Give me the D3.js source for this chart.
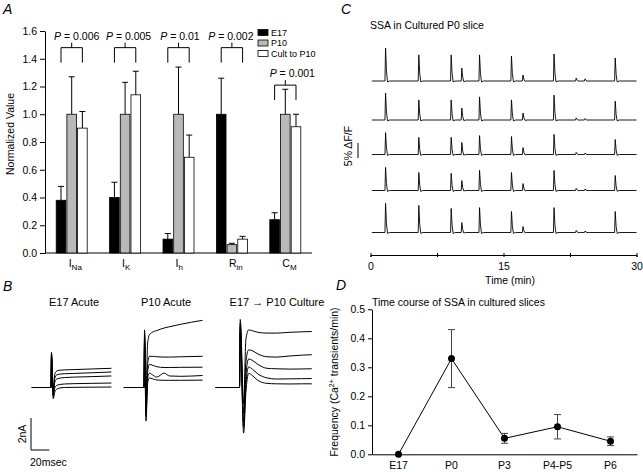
<!DOCTYPE html>
<html><head><meta charset="utf-8">
<script src="https://cdn.jsdelivr.net/npm/d3@7"></script>
<style>
body{margin:0;background:#fff}
text{font-family:"Liberation Sans",Arial,sans-serif;fill:#000}
</style>
</head><body>
<svg id="fig" width="643" height="472"></svg>
<script>
// ---------------- DATA ----------------
// Panel A
const categoriesA = ["INa", "IK", "Ih", "Rin", "CM"];
const labelMainA = ["I", "I", "I", "R", "C"];
const labelSubA = ["Na", "K", "h", "in", "M"];
const seriesA = ["E17", "P10", "Cult to P10"];
const valuesE17 = [0.38, 0.40, 0.10, 1.00, 0.24];
const valuesP10 = [1.00, 1.00, 1.00, 0.06, 1.00];
const valuesCult = [0.90, 1.14, 0.69, 0.10, 0.91];
const errE17 = [0.10, 0.11, 0.04, 0.26, 0.05];
const errP10 = [0.27, 0.23, 0.34, 0.01, 0.18];
const errCult = [0.12, 0.17, 0.16, 0.02, 0.09];
const pValues = ["0.006", "0.005", "0.01", "0.002", "0.001"];
const pLevels = [1.48, 1.48, 1.48, 1.48, 1.21];
const yTicksA = [0, 0.2, 0.4, 0.6, 0.8, 1.0, 1.2, 1.4, 1.6];

// Panel B (current traces, time in ms relative to step, current in nA)
const titlesB = ["E17 Acute", "P10 Acute", "E17 \u2192 P10 Culture"];
const timesE17 = [-21, 0, 0.5, 2.5, 4, 6, 9, 15, 25, 45, 66];
const tracesE17 = [
  [0, 0, 2.2, -0.2, 0.8, 1.02, 1.08, 1.10, 1.12, 1.16, 1.20],
  [0, 0, 2.1, -0.3, 0.55, 0.78, 0.83, 0.86, 0.88, 0.92, 0.97],
  [0, 0, 2.0, -0.45, 0.3, 0.52, 0.58, 0.62, 0.65, 0.68, 0.72],
  [0, 0, 1.9, -0.55, -0.05, 0.12, 0.18, 0.22, 0.24, 0.26, 0.28],
  [0, 0, 1.8, -0.7, -0.3, -0.12, -0.04, 0.0, 0.01, 0.02, 0.03]
];
const timesP10 = [-22, 0, 0.6, 2.2, 4, 6, 9, 14, 22, 28, 40, 64];
const tracesP10 = [
  [0, 0, 3.6, -0.5, 2.8, 3.3, 3.45, 3.56, 3.72, 3.8, 3.95, 4.2],
  [0, 0, 3.4, -1.0, 1.5, 1.95, 1.95, 1.92, 1.9, 1.9, 1.92, 1.95],
  [0, 0, 3.2, -1.4, 1.0, 1.45, 1.4, 1.3, 1.25, 1.25, 1.26, 1.27],
  [0, 0, 3.0, -1.8, 0.6, 0.9, 0.8, 0.65, 0.9, 0.72, 0.7, 0.75],
  [0, 0, 2.8, -2.1, 0.3, 0.6, 0.55, 0.47, 0.45, 0.45, 0.45, 0.46]
];
const timesCult = [-26, 0, 0.8, 4.5, 7, 10, 14, 20, 30, 40, 55, 68, 79];
const tracesCult = [
  [0, 0, 4.25, -1.0, 3.0, 3.6, 3.55, 3.45, 3.4, 3.4, 3.45, 3.48, 3.5],
  [0, 0, 4.0, -1.6, 1.6, 2.35, 2.3, 2.1, 1.92, 1.9, 1.97, 2.02, 2.05],
  [0, 0, 3.8, -2.2, 0.8, 1.78, 1.7, 1.45, 1.2, 1.17, 1.15, 1.16, 1.17],
  [0, 0, 3.6, -2.5, 0.2, 1.28, 1.15, 0.85, 0.6, 0.53, 0.54, 0.55, 0.56],
  [0, 0, 3.4, -2.85, -0.3, 0.88, 0.75, 0.45, 0.26, 0.23, 0.22, 0.23, 0.23]
];

// Panel C (spontaneous Ca transients: times in min, amplitudes in % dF/F)
const spikeTimesC = [1.7, 5.45, 9.1, 10.3, 12.3, 15.9, 17.2, 20.7, 23.2, 24.2, 27.6];
const ampsC1 = [11, 8.7, 8.7, 4.3, 8.7, 8.3, 2, 9, 1, 0.7, 7.7];
const ampsC2 = [9, 6.7, 6.7, 4, 7.7, 6.7, 2.3, 8.3, 0.7, 0.5, 6.3];
const ampsC3 = [7.3, 5.7, 5.7, 4, 6.3, 6, 2.3, 6.7, 0.7, 0.5, 5];
const ampsC4 = [7.7, 6, 5.7, 3.3, 6.7, 6, 2.3, 6.7, 0.7, 0.5, 5];
const ampsC5 = [9.7, 9, 8, 3.3, 8.3, 7, 2, 8.3, 0.7, 0.5, 7];
const xTicksC = [0, 7.5, 15, 22.5, 30];
const xTickLabelsC = ["0", "", "15", "", "30"];

// Panel D
const categoriesD = ["E17", "P0", "P3", "P4-P5", "P6"];
const freqD = [0, 0.33, 0.055, 0.095, 0.045];
const errD = [0, 0.10, 0.017, 0.042, 0.015];
const yTicksD = [0, 0.1, 0.2, 0.3, 0.4, 0.5];

// ---------------- DRAWING ----------------
const svg = d3.select("#fig");
const FS = 10.5;
const FF = '"Liberation Sans",Arial,sans-serif';

function panelLetter(x, y, s) {
  svg.append("text").attr("x", x).attr("y", y).attr("font-size", 14)
    .attr("font-style", "italic").text(s);
}

// ===== Panel A =====
panelLetter(3, 14, "A");
const yA = d3.scaleLinear().domain([0, 1.6]).range([253, 31]);
const xA = d3.scaleBand().domain(categoriesA).range([45, 312]).padding(0);
const xSub = d3.scaleBand().domain(seriesA).range([11.2, 42.2]).paddingInner(0.1);
const pLabelDx = [5, 3.5, 1.5, -1, 7];
const gA = svg.append("g");

const axA = gA.append("g").attr("transform", "translate(45,0)")
  .call(d3.axisLeft(yA).tickValues(yTicksA).tickFormat(d3.format(".1f")).tickSize(5).tickSizeOuter(0).tickPadding(3));
axA.selectAll("text").attr("font-size", FS).attr("font-family", FF);

gA.append("line").attr("x1", 45).attr("x2", 312).attr("y1", yA(0)).attr("y2", yA(0)).attr("stroke", "#000");

const seriesData = [
  {name: "E17", vals: valuesE17, errs: errE17, fill: "#000"},
  {name: "P10", vals: valuesP10, errs: errP10, fill: "#b9b9b9"},
  {name: "Cult to P10", vals: valuesCult, errs: errCult, fill: "#fff"}
];
seriesData.forEach(s => {
  categoriesA.forEach((c, i) => {
    const x0 = xA(c) + xSub(s.name);
    const w = xSub.bandwidth();
    const xc = x0 + w / 2;
    const top = yA(s.vals[i] + s.errs[i]);
    gA.append("path").attr("d", `M${xc},${yA(s.vals[i])}V${top}M${xc - 3},${top}h6`)
      .attr("fill", "none").attr("stroke", "#000").attr("stroke-width", 1);
    gA.append("rect").attr("x", x0).attr("y", yA(s.vals[i])).attr("width", w)
      .attr("height", yA(0) - yA(s.vals[i])).attr("fill", s.fill).attr("stroke", "#000").attr("stroke-width", 0.8);
  });
});

// P-value brackets
categoriesA.forEach((c, i) => {
  const xl = xA(c) + xSub("E17") + xSub.bandwidth() / 2;
  const xr = xA(c) + xSub("Cult to P10") + xSub.bandwidth() / 2;
  const yt = yA(pLevels[i]);
  const xm = (xl + xr) / 2;
  gA.append("path").attr("d", `M${xl},${yt + 15}V${yt}H${xr}V${yt + 15}M${xm},${yt}V${yt - 5}`)
    .attr("fill", "none").attr("stroke", "#000").attr("stroke-width", 1);
  const t = gA.append("text").attr("x", xm + pLabelDx[i]).attr("y", yt - 8).attr("text-anchor", "middle").attr("font-size", 10.5);
  t.append("tspan").attr("font-style", "italic").text("P");
  t.append("tspan").text(" = " + pValues[i]);
});

// category labels
categoriesA.forEach((c, i) => {
  const t = gA.append("text").attr("x", xA(c) + xA.bandwidth() / 2 - 3).attr("y", 267).attr("font-size", FS);
  t.append("tspan").text(labelMainA[i]);
  t.append("tspan").attr("font-size", 8).attr("dy", 3).text(labelSubA[i]);
});

// y label
gA.append("text").attr("transform", "translate(14,134) rotate(-90)").attr("text-anchor", "middle")
  .attr("font-size", FS).text("Normalized Value");

// legend
seriesData.forEach((s, i) => {
  const y = 29.5 + i * 10.5;
  gA.append("rect").attr("x", 258).attr("y", y).attr("width", 10).attr("height", 6)
    .attr("fill", s.fill).attr("stroke", "#000").attr("stroke-width", 0.8);
  gA.append("text").attr("x", 271).attr("y", y + 6.3).attr("font-size", 9).text(s.name);
});

// ===== Panel B =====
panelLetter(3, 291, "B");
const yB = d3.scaleLinear().domain([0, 1]).range([387.5, 371.5]);
const panelsB = [
  {title: titlesB[0], times: timesE17, traces: tracesE17, x0: 51, tx: 74},
  {title: titlesB[1], times: timesP10, traces: tracesP10, x0: 144, tx: 166},
  {title: titlesB[2], times: timesCult, traces: tracesCult, x0: 239.5, tx: 277}
];
panelsB.forEach(p => {
  const xB = d3.scaleLinear().domain([0, 20]).range([p.x0, p.x0 + 18.3]);
  svg.append("text").attr("x", p.tx).attr("y", 306).attr("text-anchor", "middle").attr("font-size", 11).text(p.title);
  const line = d3.line().x((d, i) => xB(p.times[i])).y(d => yB(d)).curve(d3.curveMonotoneX);
  p.traces.forEach(tr => {
    svg.append("path").attr("d", line(tr)).attr("fill", "none").attr("stroke", "#000").attr("stroke-width", 1);
  });
});
// scale bar
{
  const xBs = d3.scaleLinear().domain([0, 20]).range([31, 49.3]);
  const yBase = 450;
  const h = yB(0) - yB(2);
  svg.append("path").attr("d", `M${xBs(0)},${yBase - h}V${yBase}H${xBs(20)}`)
    .attr("fill", "none").attr("stroke", "#000").attr("stroke-width", 1);
  svg.append("text").attr("transform", `translate(26,${yBase - h / 2}) rotate(-90)`).attr("text-anchor", "middle")
    .attr("font-size", FS).text("2nA");
  svg.append("text").attr("x", 30).attr("y", 466).attr("font-size", FS).text("20msec");
}

// ===== Panel C =====
panelLetter(341, 14, "C");
svg.append("text").attr("x", 370).attr("y", 29).attr("font-size", FS).text("SSA in Cultured P0 slice");
const xC = d3.scaleLinear().domain([0, 30]).range([370.5, 636.5]);
const baselinesC = [81, 120, 154.5, 190.5, 232.5];
const ampsC = [ampsC1, ampsC2, ampsC3, ampsC4, ampsC5];
ampsC.forEach((amps, k) => {
  const yC = d3.scaleLinear().domain([0, 1]).range([baselinesC[k], baselinesC[k] - 3]);
  const pts = [[0.15, 0]];
  spikeTimesC.forEach((t, i) => {
    const a = amps[i];
    const u = -Math.min(0.3, a * 0.05);
    pts.push([t - 0.07, 0], [t, a], [t + 0.1, a * 0.3], [t + 0.22, u], [t + 0.45, 0]);
  });
  pts.push([30, 0]);
  const line = d3.line().x(d => xC(d[0])).y(d => yC(d[1]));
  svg.append("path").attr("d", line(pts)).attr("fill", "none").attr("stroke", "#000").attr("stroke-width", 0.9);
});
const axC = svg.append("g").attr("transform", "translate(0,255)")
  .call(d3.axisBottom(xC).tickValues(xTicksC).tickFormat((d, i) => xTickLabelsC[i]).tickSizeOuter(0).tickSize(2).tickPadding(6));
axC.selectAll(".tick line").attr("y1", -2).attr("y2", 2);
axC.selectAll("text").attr("font-size", FS).attr("font-family", FF);
svg.append("text").attr("x", 510).attr("y", 284).attr("text-anchor", "middle").attr("font-size", FS).text("Time (min)");
// dF/F scale bar
{
  const yS = d3.scaleLinear().domain([0, 1]).range([158, 155]);
  svg.append("line").attr("x1", 358).attr("x2", 358).attr("y1", yS(0)).attr("y2", yS(5)).attr("stroke", "#000");
  svg.append("text").attr("transform", "translate(352,146) rotate(-90)").attr("text-anchor", "middle")
    .attr("font-size", FS).text("5% \u0394F/F");
}

// ===== Panel D =====
panelLetter(336, 290, "D");
svg.append("text").attr("x", 372).attr("y", 306).attr("font-size", FS).text("Time course of SSA in cultured slices");
const yD = d3.scaleLinear().domain([0, 0.5]).range([454.3, 309.3]);
const xD = d3.scaleBand().domain(categoriesD).range([372, 637]);
const axDy = svg.append("g").attr("transform", "translate(372,0)")
  .call(d3.axisLeft(yD).tickValues(yTicksD).tickFormat(d3.format(".1f")).tickSize(4).tickSizeOuter(0).tickPadding(3));
axDy.selectAll("text").attr("font-size", FS).attr("font-family", FF);
const axDx = svg.append("g").attr("transform", `translate(0,${yD(0)})`)
  .call(d3.axisBottom(xD).tickSize(0).tickSizeOuter(0).tickPadding(7));
axDx.selectAll("text").attr("font-size", FS).attr("font-family", FF);

const cx = c => xD(c) + xD.bandwidth() / 2;
svg.append("path").attr("d", d3.line().x((d, i) => cx(categoriesD[i])).y(d => yD(d))(freqD))
  .attr("fill", "none").attr("stroke", "#000").attr("stroke-width", 1);
categoriesD.forEach((c, i) => {
  if (errD[i] > 0) {
    const lo = yD(freqD[i] - errD[i]), hi = yD(freqD[i] + errD[i]);
    svg.append("path").attr("d", `M${cx(c)},${lo}V${hi}M${cx(c) - 3.5},${lo}h7M${cx(c) - 3.5},${hi}h7`)
      .attr("fill", "none").attr("stroke", "#444").attr("stroke-width", 1);
  }
  svg.append("circle").attr("cx", cx(c)).attr("cy", yD(freqD[i])).attr("r", 3.5).attr("fill", "#000");
});
{
  const t = svg.append("text").attr("transform", "translate(338,382) rotate(-90)").attr("text-anchor", "middle").attr("font-size", FS);
  t.append("tspan").text("Frequency (Ca");
  t.append("tspan").attr("font-size", 7).attr("dy", -4).text("2+");
  t.append("tspan").attr("dy", 4).text(" transients/min)");
}
</script>
</body></html>
